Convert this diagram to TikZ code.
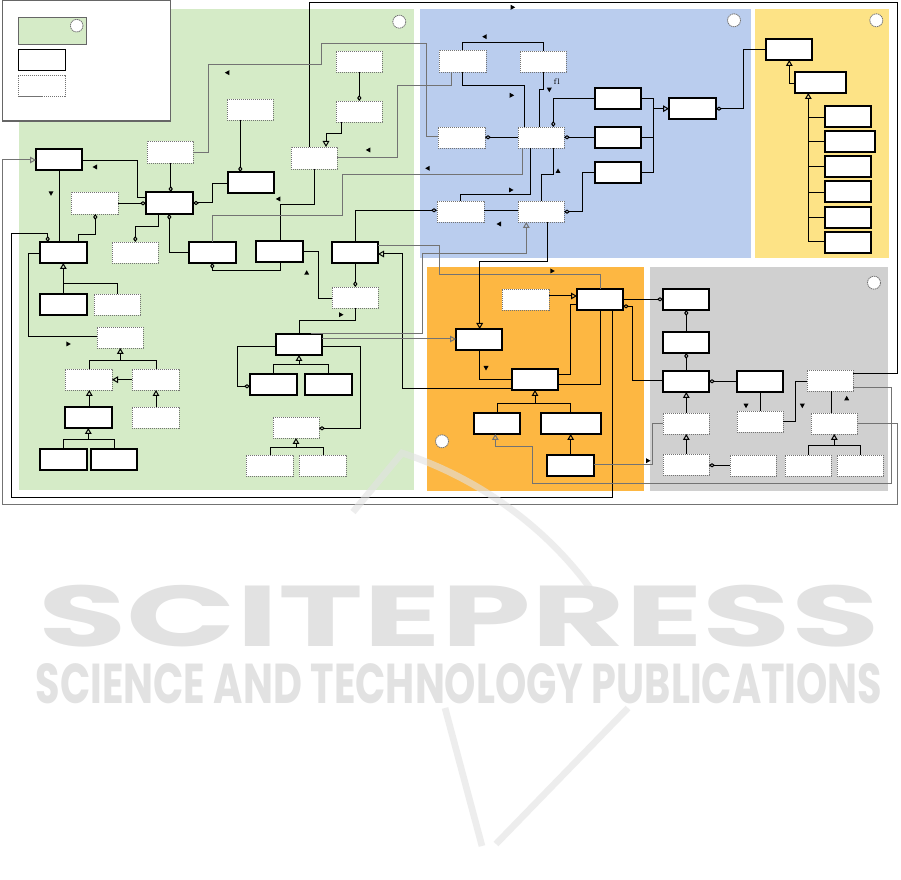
\documentclass[tikz,border=0pt]{standalone}
\usepackage{fontspec}
\newfontfamily\wmfont{Poppins}
\usetikzlibrary{arrows.meta}
\definecolor{cgreen}{RGB}{213,235,199}
\definecolor{cblue}{RGB}{186,205,238}
\definecolor{cyellow}{RGB}{253,227,134}
\definecolor{corange}{RGB}{253,183,66}
\definecolor{cgrey}{RGB}{208,208,208}
\definecolor{wm}{RGB}{226,226,226}
\newcommand\mkbox[6]{\node[#1, anchor=north west, minimum width=#5*0.75pt, minimum height=#6*0.75pt] (#2) at (#3,#4) {};}
\newcommand\dirR[2]{\fill (#1,#2) ++(2.5,0) -- ++(-4.5,-2.5) -- ++(0,5) -- cycle;}
\newcommand\dirL[2]{\fill (#1,#2) ++(-2.5,0) -- ++(4.5,-2.5) -- ++(0,5) -- cycle;}
\newcommand\dirD[2]{\fill (#1,#2) ++(0,2.5) -- ++(-2.5,-4.5) -- ++(5,0) -- cycle;}
\newcommand\dirU[2]{\fill (#1,#2) ++(0,-2.5) -- ++(-2.5,4.5) -- ++(5,0) -- cycle;}
\begin{document}
\begin{tikzpicture}[x=0.75pt,y=-0.75pt,
  sb/.style={draw=black, fill=white, line width=0.9pt, inner sep=0pt, outer sep=0pt},
  db/.style={draw=black!55, fill=white, line width=0.7pt, dash pattern=on 0.9pt off 0.6pt, inner sep=0pt, outer sep=0pt},
  ln/.style={draw=black, line width=0.75pt},
  gl/.style={draw=black!55, line width=0.75pt},
  inh/.style={-{Triangle[open,length=4.5pt,width=5pt]}},
  agg/.style={-{Diamond[open,length=4.5pt,width=3.2pt]}},
  aggs/.style={{Diamond[open,length=4.5pt,width=3.2pt]}-},
  wml/.style={draw=wm, line width=5pt, opacity=0.6},
  circ/.style={draw=black!55, fill=white, line width=0.6pt, dash pattern=on 1pt off 0.5pt}]
\useasboundingbox (0,0) rectangle (901,880);
\fill[white] (0,0) rectangle (901,880);
% regions
\fill[cgreen] (19,9) rectangle (414,490);
\fill[cblue] (420,9) rectangle (751,258);
\fill[cyellow] (755,9) rectangle (889,258);
\fill[corange] (427,267) rectangle (644,491);
\fill[cgrey] (650,267) rectangle (888,491);
\draw[circ] (399.3,21.7) circle (6.5);
\draw[circ] (734,20.3) circle (6.5);
\draw[circ] (876.3,20.3) circle (6.5);
\draw[circ] (874,282.7) circle (6.5);
\draw[circ] (442,441.3) circle (6.5);
% legend
\draw[draw=black!60, fill=white, line width=0.9pt] (2.3,0.5) rectangle (170.7,121);
\draw[draw=black!60, fill=cgreen, line width=0.9pt] (18.3,17.3) rectangle (86.7,44.3);
\draw[circ] (76.7,25.7) circle (6.3);
\mkbox{sb}{L1}{18.3}{49.3}{47.4}{21}
\mkbox{db}{L2}{18.3}{75}{46.7}{21.7}
% green boxes
\mkbox{sb}{G1}{36}{149}{46}{21}
\mkbox{db}{G2}{147}{141}{46}{22}
\mkbox{sb}{G3}{146}{192}{47}{22}
\mkbox{db}{G4}{71}{192}{47}{22}
\mkbox{sb}{G5}{40}{242}{47}{21}
\mkbox{db}{G6}{112}{242}{46}{21}
\mkbox{sb}{G7}{40}{294}{47}{21}
\mkbox{db}{G8}{94}{294}{46}{21}
\mkbox{db}{G9}{97}{327}{46}{21}
\mkbox{db}{G10}{65}{369}{47}{21}
\mkbox{db}{G11}{132}{369}{47}{21}
\mkbox{sb}{G12}{65}{407}{47}{21}
\mkbox{db}{G13}{132}{407}{47}{21}
\mkbox{sb}{G14}{40}{449}{47}{21}
\mkbox{sb}{G15}{91}{449}{46}{21}
\mkbox{sb}{G16}{228}{172}{46}{21}
\mkbox{db}{G17}{227}{99}{46}{21}
\mkbox{db}{G18}{336}{51}{46}{21}
\mkbox{db}{G19}{336}{101}{46}{21}
\mkbox{db}{G20}{291}{147}{46}{22}
\mkbox{sb}{G21}{189}{242}{47}{21}
\mkbox{sb}{G22}{256}{241}{47}{21}
\mkbox{sb}{G23}{332}{242}{46}{21}
\mkbox{db}{G24}{332}{287}{46}{21}
\mkbox{sb}{G25}{276}{334}{46}{21}
\mkbox{sb}{G26}{250}{374}{47}{21}
\mkbox{sb}{G27}{305}{374}{47}{21}
\mkbox{db}{G28}{273}{417}{46}{21}
\mkbox{db}{G29}{246}{455}{47}{21}
\mkbox{db}{G30}{299}{455}{47}{21}
% blue boxes
\mkbox{db}{B1}{439}{50}{47}{22}
\mkbox{db}{B2}{520}{51}{46}{21}
\mkbox{sb}{B3}{595}{88}{46}{21}
\mkbox{db}{B4}{438}{127}{47}{21}
\mkbox{db}{B5}{518}{127}{46}{21}
\mkbox{sb}{B6}{595}{127}{46}{21}
\mkbox{sb}{B7}{595}{162}{46}{21}
\mkbox{sb}{B8}{669}{98}{47}{21}
\mkbox{db}{B9}{437}{201}{47}{21}
\mkbox{db}{B10}{518}{201}{46}{21}
% yellow boxes
\mkbox{sb}{Y1}{766}{39}{46}{21}
\mkbox{sb}{Y2}{795}{72}{51}{21}
\mkbox{sb}{Y3}{825}{106}{46}{21}
\mkbox{sb}{Y4}{825}{131}{50}{21}
\mkbox{sb}{Y5}{825}{156}{46}{21}
\mkbox{sb}{Y6}{825}{181}{46}{21}
\mkbox{sb}{Y7}{825}{207}{46}{21}
\mkbox{sb}{Y8}{825}{232}{46}{21}
% orange boxes
\mkbox{db}{O1}{502}{289}{47}{21}
\mkbox{sb}{O2}{577}{289}{46}{21}
\mkbox{sb}{O3}{456}{329}{46}{21}
\mkbox{sb}{O4}{512}{369}{46}{21}
\mkbox{sb}{O5}{474}{413}{46}{21}
\mkbox{sb}{O6}{541}{413}{60}{21}
\mkbox{sb}{O7}{547}{455}{47}{21}
% grey boxes
\mkbox{sb}{R1}{663}{289}{46}{21}
\mkbox{sb}{R2}{663}{332}{46}{21}
\mkbox{sb}{R3}{663}{371}{46}{21}
\mkbox{sb}{R4}{737}{371}{46}{21}
\mkbox{db}{R5}{807}{370}{46}{21}
\mkbox{db}{R6}{663}{413}{46}{21}
\mkbox{db}{R7}{737}{411}{46}{21}
\mkbox{db}{R8}{811}{413}{46}{21}
\mkbox{db}{R9}{663}{454}{46}{21}
\mkbox{db}{R10}{730}{455}{46}{21}
\mkbox{db}{R11}{785}{455}{46}{21}
\mkbox{db}{R12}{837}{455}{46}{21}
% ---- green connectors
\draw[ln] (G1.east |- 0,160.7) -- (137.3,160.7) -- (137.3,198) -- (G3.west |- 0,198);
\draw[ln,agg] (G4.east |- 0,203.3) -- (G3.west |- 0,203.3);
\draw[ln,agg] (G2.south -| 170.7,0) -- (G3.north -| 170.7,0);
\draw[ln,aggs] (G3.east |- 0,203) -- (212.3,203) -- (212.3,183.3) -- (G16.west |- 0,183.3);
\draw[ln,agg] (G3.south -| 158.7,0) -- (158.7,226.3) -- (135.3,226.3) -- (G6.north -| 135.3,0);
\draw[ln,agg] (G21.west |- 0,252.3) -- (169.3,252.3) -- (G3.south -| 169.3,0);
\draw[ln,agg] (G5.north -| 78.7,0) -- (78.7,234.3) -- (95.3,234.3) -- (G4.south -| 95.3,0);
\draw[ln] (G1.south -| 59.3,0) -- (G5.north -| 59.3,0);
\draw[ln,agg] (O2.south -| 612.3,0) -- (612.3,497.7) -- (11.7,497.7) -- (11.7,233.3) -- (47.7,233.3) -- (G5.north -| 47.7,0);
\draw[ln,inh] (G7.north -| 63.3,0) -- (G5.south -| 63.3,0);
\draw[ln] (G8.north -| 117.3,0) -- (117.3,283.3) -- (63.3,283.3);
\draw[ln] (G9.west |- 0,337) -- (28.3,337) -- (28.3,253.3) -- (G5.west |- 0,253.3);
\draw[ln] (G10.north -| 89.3,0) -- (89.3,361) -- (156.7,361) -- (G11.north -| 156.7,0);
\draw[ln,inh] (120.3,361) -- (G9.south -| 120.3,0);
\draw[ln,inh] (G11.west |- 0,379.7) -- (G10.east |- 0,379.7);
\draw[ln,inh] (G12.north -| 89.3,0) -- (G10.south -| 89.3,0);
\draw[ln,inh] (G13.north -| 156,0) -- (G11.south -| 156,0);
\draw[ln] (G14.north -| 63.3,0) -- (63.3,439.3) -- (114.3,439.3) -- (G15.north -| 114.3,0);
\draw[ln,inh] (88.3,439.3) -- (G12.south -| 88.3,0);
\draw[ln,agg] (G17.south -| 240.3,0) -- (G16.north -| 240.3,0);
\draw[ln,agg] (G18.south -| 359.3,0) -- (G19.north -| 359.3,0);
\draw[ln,inh] (G19.south -| 341.7,0) -- (341.7,133.3) -- (326,133.3) -- (G20.north -| 326,0);
\draw[ln] (R5.east |- 0,374) -- (897,374) -- (897,2.3) -- (309.3,2.3) -- (G20.north -| 309.3,0);
\draw[ln] (G20.south -| 314.3,0) -- (314.3,205) -- (280.3,205) -- (G22.north -| 280.3,0);
\draw[gl] (G20.east |- 0,157.3) -- (397.3,157.3) -- (397.3,86) -- (451.7,86) -- (B1.south -| 451.7,0);
\draw[gl] (G2.east |- 0,152.3) -- (208.3,152.3) -- (208.3,64.3) -- (321.7,64.3) -- (321.7,44) -- (426.7,44) -- (426.7,137) -- (B4.west |- 0,137);
\draw[gl] (B5.south -| 522.7,0) -- (522.7,174.3) -- (342.7,174.3) -- (342.7,216) -- (212.3,216) -- (G21.north -| 212.3,0);
\draw[ln,agg] (G22.south -| 280.3,0) -- (280.3,271) -- (212.3,271) -- (G21.south -| 212.3,0);
\draw[ln] (G22.east |- 0,252) -- (318.3,252) -- (318.3,298.3) -- (G24.west |- 0,298.3);
\draw[ln,agg] (G23.north -| 355.3,0) -- (355.3,210.3) -- (B9.west |- 0,210.3);
\draw[ln,agg] (G23.south -| 355.3,0) -- (G24.north -| 355.3,0);
\draw[gl] (G23.east |- 0,245.3) -- (439.3,245.3) -- (439.3,274.3) -- (600,274.3) -- (O2.north -| 600,0);
\draw[ln,inh] (O4.west |- 0,388.3) -- (402.3,388.3) -- (402.3,254) -- (G23.east |- 0,254);
\draw[ln] (G24.south -| 355.3,0) -- (355.3,321) -- (299.3,321) -- (G25.north -| 299.3,0);
\draw[ln,agg] (G25.west |- 0,346.3) -- (237.3,346.3) -- (237.3,386.3) -- (G26.west |- 0,386.3);
\draw[ln] (G26.north -| 273.3,0) -- (273.3,365) -- (328.3,365) -- (G27.north -| 328.3,0);
\draw[ln,inh] (299,365) -- (G25.south -| 299,0);
\draw[ln,agg] (G25.east |- 0,346.3) -- (360.3,346.3) -- (360.3,428.3) -- (G28.east |- 0,428.3);
\draw[ln] (G29.north -| 270.3,0) -- (270.3,447.3) -- (323.3,447.3) -- (G30.north -| 323.3,0);
\draw[ln,inh] (296,447.3) -- (G28.south -| 296,0);
\draw[gl,inh] (G25.east |- 0,339) -- (O3.west |- 0,339);
\draw[gl,inh] (G25.north -| 311,0) -- (311,333.3) -- (422.7,333.3) -- (422.7,254) -- (526.3,254) -- (B10.south -| 526.3,0);
% ---- blue connectors
\draw[ln] (B1.north -| 462.3,0) -- (462.3,42.3) -- (543.7,42.3) -- (B2.north -| 543.7,0);
\draw[ln] (B1.south -| 462.3,0) -- (462.3,86) -- (524.3,86) -- (B5.north -| 524.3,0);
\draw[ln] (B2.south -| 543.7,0) -- (543.7,90) -- (539.3,90) -- (B5.north -| 539.3,0);
\draw[ln,agg] (B3.west |- 0,99) -- (553.3,99) -- (B5.north -| 553.3,0);
\draw[ln,agg] (B6.west |- 0,137.3) -- (B5.east |- 0,137.3);
\draw[ln,agg] (B5.west |- 0,137.3) -- (B4.east |- 0,137.3);
\draw[ln] (B3.east |- 0,99) -- (653.3,99) -- (653.3,172.3) -- (B7.east |- 0,172.3);
\draw[ln] (B6.east |- 0,137.3) -- (653.3,137.3);
\draw[ln,inh] (653.3,108.7) -- (B8.west |- 0,108.7);
\draw[ln,aggs] (B8.east |- 0,108.7) -- (743.3,108.7) -- (743.3,49.3) -- (Y1.west |- 0,49.3);
\draw[ln] (B5.south -| 530.3,0) -- (530.3,195) -- (460.3,195) -- (B9.north -| 460.3,0);
\draw[ln] (B5.south -| 553.7,0) -- (553.7,174.3) -- (541.3,174.3) -- (B10.north -| 541.3,0);
\draw[ln,agg] (B7.west |- 0,172.3) -- (582.7,172.3) -- (582.7,211.7) -- (B10.east |- 0,211.7);
\draw[ln] (B9.east |- 0,210.3) -- (B10.west |- 0,210.3);
\draw[ln,inh] (B10.south -| 547.3,0) -- (547.3,262) -- (479.7,262) -- (O3.north -| 479.7,0);
% ---- yellow connectors
\draw[ln,inh] (Y2.west |- 0,83.3) -- (789.3,83.3) -- (Y1.south -| 789.3,0);
\draw[ln,inh] (808.3,241.3) -- (Y2.south -| 808.3,0);
\draw[ln] (Y3.west |- 0,117.3) -- (808.3,117.3);
\draw[ln] (Y4.west |- 0,141.3) -- (808.3,141.3);
\draw[ln] (Y5.west |- 0,167) -- (808.3,167);
\draw[ln] (Y6.west |- 0,192.3) -- (808.3,192.3);
\draw[ln] (Y7.west |- 0,217.7) -- (808.3,217.7);
\draw[ln] (Y8.west |- 0,241.3) -- (808.3,241.3);
% ---- orange connectors
\draw[ln,inh] (O1.east |- 0,296) -- (O2.west |- 0,296);
\draw[ln] (O2.west |- 0,304.3) -- (570.3,304.3) -- (570.3,374.3) -- (O4.east |- 0,374.3);
\draw[ln] (O2.south -| 600.7,0) -- (600.7,385) -- (O4.east |- 0,385);
\draw[ln] (O3.south -| 479.7,0) -- (479.7,379.3) -- (O4.west |- 0,379.3);
\draw[ln] (O5.north -| 497.3,0) -- (497.3,403.3) -- (570.3,403.3) -- (O6.north -| 570.3,0);
\draw[ln,inh] (535,403.3) -- (O4.south -| 535,0);
\draw[ln,inh] (O7.north -| 570.7,0) -- (O6.south -| 570.7,0);
\draw[gl] (O7.east |- 0,465) -- (652.3,465) -- (652.3,423.3) -- (R6.west |- 0,423.3);
\draw[gl,inh] (R5.east |- 0,388) -- (891,388) -- (891,483.3) -- (532.7,483.3) -- (532.7,446.7) -- (495.3,446.7) -- (O5.south -| 495.3,0);
\draw[ln,agg] (O2.east |- 0,299.3) -- (R1.west |- 0,299.3);
\draw[ln,agg] (R3.west |- 0,381) -- (632.7,381) -- (632.7,306.3) -- (O2.east |- 0,306.3);
% ---- grey connectors
\draw[ln,agg] (R2.north -| 686.3,0) -- (R1.south -| 686.3,0);
\draw[ln,agg] (R3.north -| 686.3,0) -- (R2.south -| 686.3,0);
\draw[ln,agg] (R4.west |- 0,381.3) -- (R3.east |- 0,381.3);
\draw[ln,inh] (R6.north -| 686.3,0) -- (R3.south -| 686.3,0);
\draw[ln,inh] (R9.north -| 686.3,0) -- (R6.south -| 686.3,0);
\draw[ln,agg] (R10.west |- 0,465.3) -- (R9.east |- 0,465.3);
\draw[ln] (R4.south -| 760.7,0) -- (R7.north -| 760.7,0);
\draw[ln] (R7.east |- 0,422) -- (795.3,422) -- (795.3,381.3) -- (R5.west |- 0,381.3);
\draw[ln] (R5.south -| 831.3,0) -- (R8.north -| 831.3,0);
\draw[ln] (R11.north -| 808.7,0) -- (808.7,446) -- (860.3,446) -- (R12.north -| 860.3,0);
\draw[ln,inh] (834.3,446) -- (R8.south -| 834.3,0);
\draw[gl,inh] (R8.east |- 0,424) -- (897,424) -- (897,505) -- (2.3,505) -- (2.3,160) -- (G1.west |- 0,160);
% direction marks
\dirL{95}{167} \dirL{227.3}{72.7} \dirL{368.3}{150} \dirL{427.7}{168.3}
\dirR{512.7}{7.3} \dirL{484.7}{36.7} \dirR{511.7}{95.3} \dirD{549.3}{89.7}
\dirU{558}{171} \dirD{51}{193.3} \dirL{278.3}{199} \dirU{306.7}{272.7}
\dirR{341}{314.7} \dirR{511}{190} \dirL{499}{224} \dirR{552.3}{271}
\dirR{68.3}{344} \dirD{486}{368} \dirR{648}{460.7} \dirD{746}{405.7}
\dirD{802.3}{405.7} \dirU{846.7}{398.3}
\node[font=\fontsize{6}{6}\selectfont, inner sep=0] (fl) at (556.7,81.7) {f\kern0.3pt l};
% watermark
\draw[wml] (353,512) -- (402,453) .. controls (470,475) and (540,520) .. (590,588);
\draw[wml] (445,708) -- (482,846);
\draw[wml] (628,708) -- (496,844);
\node[inner sep=0, text=wm, anchor=north] (wm) at (459,585) {\begin{tabular}{@{}c@{}}\resizebox{631pt}{46pt}{\wmfont\bfseries SCITEPRESS}\\[9pt]\resizebox{635pt}{30pt}{\wmfont\bfseries SCIENCE AND TECHNOLOGY PUBLICATIONS}\end{tabular}};
\end{tikzpicture}
\end{document}
